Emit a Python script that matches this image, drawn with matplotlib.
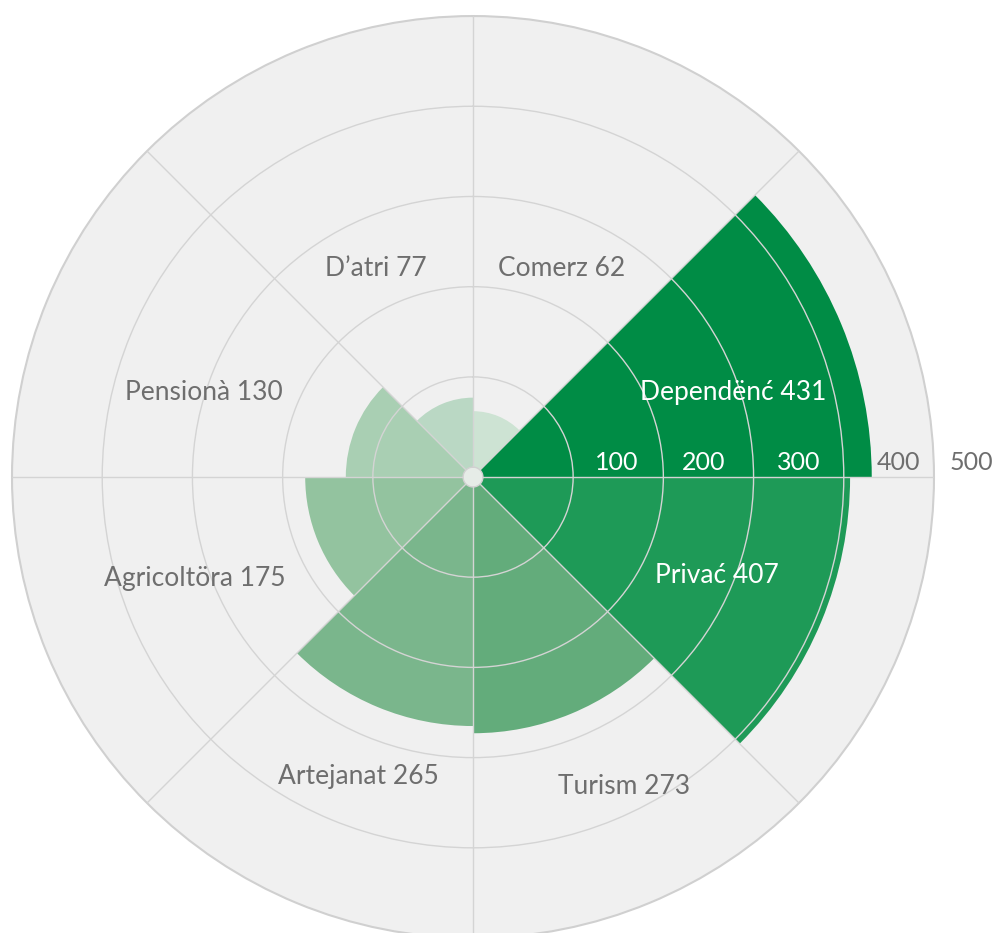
"""Rose chart of categories (polar bars), matplotlib, file output only."""

import matplotlib

matplotlib.use("Agg")
import matplotlib.pyplot as plt
import numpy as np
from matplotlib.patches import Circle

# data, clockwise from north
categories = ["Comerz", "Dependënć", "Privać", "Turism",
              "Artejanat", "Agricoltöra", "Pensionà", "D’atri"]
values = [62, 431, 407, 273, 265, 175, 130, 77]
colors = ["#cde3d3", "#008c45", "#1e9a57", "#63ac7b",
          "#7ab68c", "#93c39f", "#a9cfb3", "#bad8c4"]

# label placement: angle (deg, clockwise from north) and radius (data units)
label_angle = [23, 72, 112, 154, 201, 250, 287.5, 335]
label_radius = [240, 292, 280, 371, 345, 317, 302, 244]
label_color = ["#6e6e6e", "white", "white", "#6e6e6e",
               "#6e6e6e", "#6e6e6e", "#6e6e6e", "#6e6e6e"]

radial_ticks = [100, 200, 300, 400, 500]
radial_label_pos = [148, 245, 350, 461, 541]
radial_label_color = ["white", "white", "white", "#6e6e6e", "#6e6e6e"]

plt.rcParams["font.family"] = ["Lato", "DejaVu Sans"]

fig = plt.figure(figsize=(10, 9.33), dpi=100)
ax = fig.add_axes([0.012, -0.0054, 0.922, 0.9882], projection="polar")
ax.set_theta_zero_location("N")
ax.set_theta_direction(-1)
ax.set_ylim(0, 500)
ax.set_rorigin(-11)
ax.set_facecolor("#f0f0f0")

# fill the small hole left by the radial origin offset
fig.add_artist(Circle((0.5, 0.5), 0.011, transform=ax.transAxes,
                      facecolor="#e6ece7", edgecolor="none", zorder=-1))

n = len(categories)
width = 2 * np.pi / n
theta = np.arange(n) * width
ax.bar(theta, values, width=width, bottom=0, align="edge",
       color=colors, edgecolor="none", zorder=1)

ax.set_xticks(theta)
ax.set_xticklabels([])
ax.set_yticks(radial_ticks[:-1])
ax.set_yticklabels([])
ax.set_axisbelow(False)
ax.grid(True, color="#d4d4d4", lw=1.0)
ax.tick_params(length=0)
for name, sp in ax.spines.items():
    sp.set_color("#d0d0d0")
    sp.set_linewidth(1.5 if name == "polar" else 1.0)

# category labels
for cat, v, a, r, c in zip(categories, values, label_angle, label_radius, label_color):
    ax.text(np.deg2rad(a), r, f"{cat} {v}", color=c, fontsize=19,
            ha="center", va="center", zorder=5)

# radial axis labels
for t, r, c in zip(radial_ticks, radial_label_pos, radial_label_color):
    ax.annotate(str(t), xy=(np.pi / 2, r), xytext=(0, 3), textcoords="offset pixels",
                color=c, fontsize=18, ha="center", va="bottom",
                annotation_clip=False, zorder=5)

fig.savefig("out.png", dpi=100)
plt.close(fig)
